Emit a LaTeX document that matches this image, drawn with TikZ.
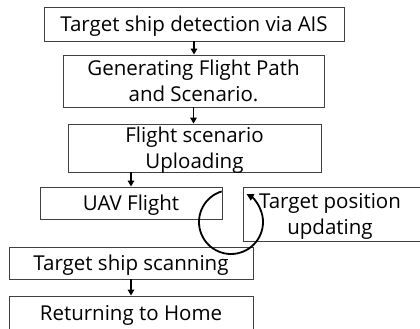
\documentclass[tikz,border=0pt]{standalone}
\usepackage{fontspec}
\setmainfont{Open Sans}
\usetikzlibrary{arrows.meta,calc}
\tikzset{
  boxfont/.style={font=\fontsize{20.5}{25.5}\selectfont, text depth=0.5pt},
  stepbox/.style={draw=black!75, line width=0.9pt, inner sep=0pt, align=center, boxfont},
  flow/.style={line width=1.6pt, -{Triangle[length=6pt,width=6.5pt]}},
  loop/.style={line width=1.8pt, -{Triangle[length=7pt,width=7pt]}},
}
\begin{document}
\begin{tikzpicture}[x=1pt,y=-1pt]
  \useasboundingbox (0,0) rectangle (420,329);
  \clip (0,0) rectangle (420,329);
  % process boxes, placed by their centres
  \node[stepbox, minimum width=300pt, minimum height=34pt] (ais) at (194,24) {Target ship detection via AIS};
  \node[stepbox, minimum width=261pt, minimum height=52pt] (path) at (193.5,81) {Generating Flight Path\\and Scenario.};
  \node[stepbox, minimum width=253pt, minimum height=48pt] (upl) at (194.5,148) {Flight scenario\\Uploading};
  \node[stepbox, minimum width=182pt, minimum height=32pt] (uav) at (131,203) {UAV Flight};
  \node[stepbox, minimum width=182pt, minimum height=54pt] (upd) at (334,214) {};
  \node[boxfont, align=center, inner sep=0pt] (updtext) at (330,214) {Target position\\updating};
  \node[stepbox, minimum width=244pt, minimum height=32pt] (scan) at (131,263) {Target ship scanning};
  \node[stepbox, minimum width=244pt, minimum height=35pt] (home) at (131,313.5) {Returning to Home};
  % connectors
  \draw[flow] (ais.south) -- (ais.south |- path.north);
  \draw[flow] (path.south) -- (path.south |- upl.north);
  \draw[flow] (uav.north |- upl.south) -- (uav.north);
  \draw[flow] (scan.south) -- (home.north);
  % update loop between flight and target position (y axis points down)
  \coordinate (loopc) at (231,222);
  \draw[loop] ($(loopc)+(-107:32)$) arc[start angle=-107, end angle=-421, radius=32];
\end{tikzpicture}
\end{document}
